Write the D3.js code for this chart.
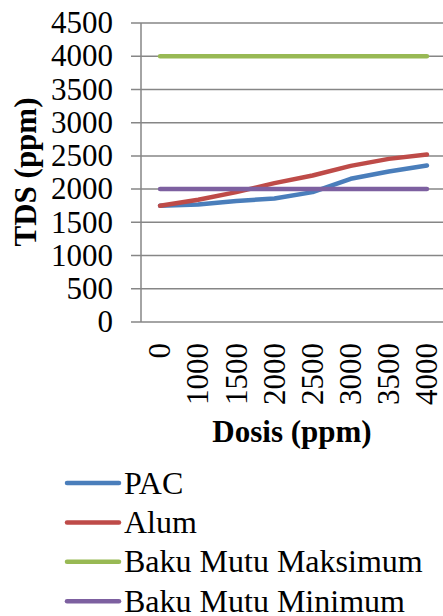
<!DOCTYPE html>
<html>
<head>
<meta charset="utf-8">
<script src="https://cdn.jsdelivr.net/npm/d3@7"></script>
</head>
<body style="margin:0; background:#fff">
<script>
var dosis = ["0", "1000", "1500", "2000", "2500", "3000", "3500", "4000"];
var pac = [1750, 1770, 1820, 1860, 1955, 2155, 2265, 2355];
var alum = [1750, 1840, 1955, 2090, 2205, 2350, 2455, 2520];
var bakuMaks = [4000, 4000, 4000, 4000, 4000, 4000, 4000, 4000];
var bakuMin = [2000, 2000, 2000, 2000, 2000, 2000, 2000, 2000];
var yTicks = [0, 500, 1000, 1500, 2000, 2500, 3000, 3500, 4000, 4500];

var series = [
    { name: "PAC", values: pac, color: "#4a7ebb" },
    { name: "Alum", values: alum, color: "#be4b48" },
    { name: "Baku Mutu Maksimum", values: bakuMaks, color: "#98b954" },
    { name: "Baku Mutu Minimum", values: bakuMin, color: "#7d60a0" }
];

var width = 443, height = 616;
var plotLeft = 141, plotRight = 446, plotTop = 23, plotBottom = 322;
var font = "Liberation Serif";

var svg = d3.select("body").append("svg")
    .attr("width", width)
    .attr("height", height);

var x = d3.scaleBand().domain(dosis).range([plotLeft, plotRight]);
var y = d3.scaleLinear().domain([0, 4500]).range([plotBottom, plotTop]);

// gridlines
svg.append("g")
    .selectAll("line")
    .data(yTicks)
    .enter()
    .append("line")
    .attr("x1", plotLeft - 10)
    .attr("x2", width)
    .attr("y1", function(d) { return y(d); })
    .attr("y2", function(d) { return y(d); })
    .attr("stroke", "#868686")
    .attr("stroke-width", 1.5);

svg.append("line")
    .attr("x1", plotLeft).attr("x2", plotLeft)
    .attr("y1", plotTop).attr("y2", plotBottom)
    .attr("stroke", "#868686")
    .attr("stroke-width", 1.5);

// y labels
svg.append("g")
    .selectAll("text")
    .data(yTicks)
    .enter()
    .append("text")
    .attr("x", 113)
    .attr("y", function(d) { return y(d); })
    .attr("dy", "0.33em")
    .attr("text-anchor", "end")
    .attr("font-family", font)
    .attr("font-size", 31)
    .text(function(d) { return d; });

// x labels
svg.append("g")
    .selectAll("text")
    .data(dosis)
    .enter()
    .append("text")
    .attr("transform", function(d) {
        return "translate(" + (x(d) + x.bandwidth() / 2) + ",343) rotate(-90)";
    })
    .attr("dy", "0.33em")
    .attr("text-anchor", "end")
    .attr("font-family", font)
    .attr("font-size", 31)
    .text(function(d) { return d; });

svg.append("text")
    .attr("transform", "translate(36,172) rotate(-90)")
    .attr("text-anchor", "middle")
    .attr("font-family", font)
    .attr("font-size", 31)
    .attr("font-weight", "bold")
    .text("TDS (ppm)");

svg.append("text")
    .attr("x", 292)
    .attr("y", 442)
    .attr("text-anchor", "middle")
    .attr("font-family", font)
    .attr("font-size", 31)
    .attr("font-weight", "bold")
    .text("Dosis (ppm)");

var line = d3.line()
    .x(function(d, i) { return x(dosis[i]) + x.bandwidth() / 2; })
    .y(function(d) { return y(d); });

svg.append("g")
    .selectAll("path")
    .data(series)
    .enter()
    .append("path")
    .attr("d", function(d) { return line(d.values); })
    .attr("fill", "none")
    .attr("stroke", function(d) { return d.color; })
    .attr("stroke-width", 4.5)
    .attr("stroke-linecap", "round")
    .attr("stroke-linejoin", "round");

// legend
var legend = svg.selectAll(".legend")
    .data(series)
    .enter()
    .append("g")
    .attr("class", "legend")
    .attr("transform", function(d, i) {
        return "translate(0," + (483 + i * 39.4) + ")";
    });

legend.append("line")
    .attr("x1", 67).attr("x2", 119)
    .attr("y1", 0).attr("y2", 0)
    .attr("stroke", function(d) { return d.color; })
    .attr("stroke-width", 4.5)
    .attr("stroke-linecap", "round");

legend.append("text")
    .attr("x", 124)
    .attr("y", 10.5)
    .attr("font-family", font)
    .attr("font-size", 32)
    .text(function(d) { return d.name; });
</script>
</body>
</html>
